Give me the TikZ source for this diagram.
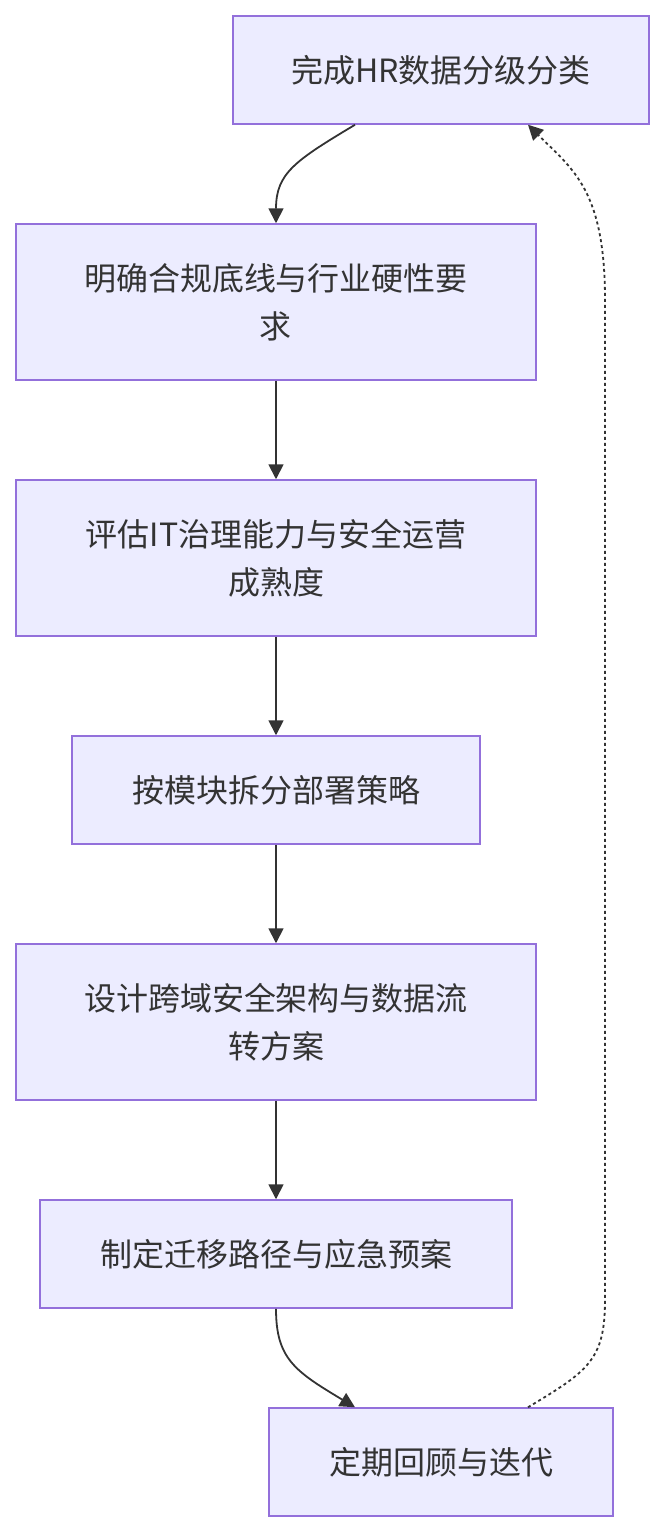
\documentclass[tikz,border=0pt]{standalone}
\usepackage{fontspec}
\setmainfont{Noto Sans CJK SC}
\usepackage{tikz}
\usetikzlibrary{positioning, arrows.meta}

\definecolor{boxfill}{HTML}{ECECFF}
\definecolor{boxline}{HTML}{9370DB}
\definecolor{ink}{HTML}{333333}

\begin{document}
\begin{tikzpicture}[
    x=1pt, y=-1pt,
    node distance=98.5pt,
    stepbox/.style={rectangle, draw=boxline, fill=boxfill, line width=1.5pt,
      text=ink, align=center, font=\fontsize{32}{48}\selectfont,
      minimum height=108pt, inner sep=0pt},
    flow/.style={draw=ink, line width=1.8pt, -{Triangle[length=15pt, width=15pt]}},
    back/.style={flow, dash pattern=on 3pt off 3pt}
  ]
  \useasboundingbox (0,0) rectangle (664,1532);

  \node[stepbox, minimum width=416pt] (plan) at (441,70) {完成HR数据分级分类};
  \node[stepbox, minimum width=520pt, minimum height=156pt, below=of plan, xshift=-165pt] (rules)
    {明确合规底线与行业硬性要\\求};
  \node[stepbox, minimum width=520pt, minimum height=156pt, below=of rules] (assess)
    {评估IT治理能力与安全运营\\成熟度};
  \node[stepbox, minimum width=408pt, below=of assess] (split) {按模块拆分部署策略};
  \node[stepbox, minimum width=520pt, minimum height=156pt, below=of split] (arch)
    {设计跨域安全架构与数据流\\转方案};
  \node[stepbox, minimum width=472pt, below=of arch] (migrate) {制定迁移路径与应急预案};
  \node[stepbox, minimum width=344pt, below=of migrate, xshift=165pt] (review) {定期回顾与迭代};

  % main chain
  \draw[flow] ([xshift=-86pt]plan.south) .. controls +(-60,36) and +(0,-50) .. (rules.north);
  \draw[flow] (rules) -- (assess);
  \draw[flow] (assess) -- (split);
  \draw[flow] (split) -- (arch);
  \draw[flow] (arch) -- (migrate);
  \draw[flow] (migrate.south) .. controls +(0,50) and +(-60,-36) .. ([xshift=-86pt]review.north);

  % feedback loop
  \draw[back] ([xshift=87pt]review.north) .. controls +(60,-36) and +(0,60) .. (605,1300)
    -- (605,300) .. controls +(0,-110) and +(45,45) .. ([xshift=87pt]plan.south);

\end{tikzpicture}
\end{document}
